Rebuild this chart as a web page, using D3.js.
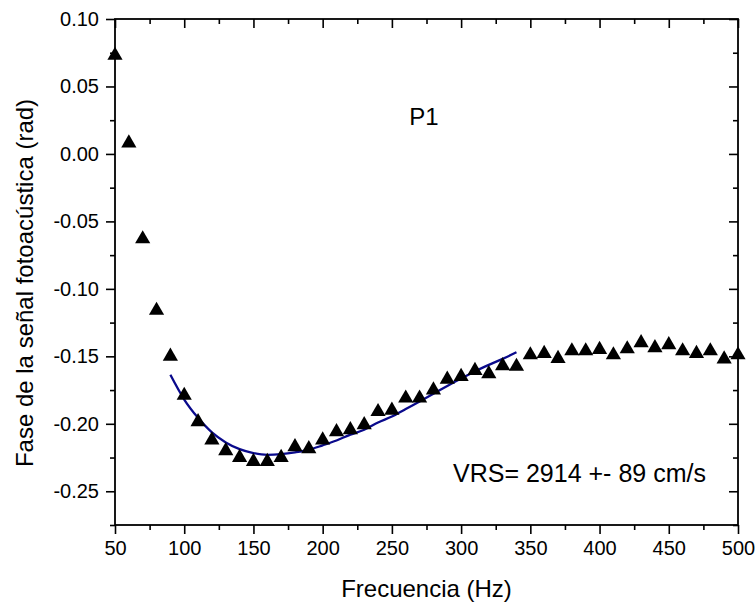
<!DOCTYPE html>
<html>
<head>
<meta charset="utf-8">
<script src="https://cdn.jsdelivr.net/npm/d3@7"></script>
<style>
  body { margin: 0; background: #fff; }
  text { font-family: "Liberation Sans", Arial, sans-serif; fill: #000; }
</style>
</head>
<body>
<div id="chart"></div>
<script>
var width = 756,
    height = 606;

// measured phase (rad) vs frequency (Hz)
var freq = [50, 60, 70, 80, 90, 100, 110, 120, 130, 140, 150, 160, 170, 180, 190,
    200, 210, 220, 230, 240, 250, 260, 270, 280, 290, 300, 310, 320, 330, 340,
    350, 360, 370, 380, 390, 400, 410, 420, 430, 440, 450, 460, 470, 480, 490, 500];
var phase = [0.073, 0.008, -0.063, -0.116, -0.150, -0.179, -0.1985, -0.212, -0.220, -0.225,
    -0.228, -0.228, -0.225, -0.217, -0.2185, -0.212, -0.206, -0.2045, -0.2007, -0.191,
    -0.190, -0.181, -0.181, -0.175, -0.167, -0.165, -0.1605, -0.163, -0.157, -0.1575,
    -0.149, -0.148, -0.1516, -0.146, -0.146, -0.145, -0.149, -0.1445, -0.140, -0.1437,
    -0.1415, -0.146, -0.148, -0.146, -0.152, -0.149];

// fitted curve
var fitFreq = [90, 100, 110, 120, 130, 140, 150, 160, 170, 180, 190, 200, 210, 220, 230,
    240, 250, 260, 270, 280, 290, 300, 310, 320, 330, 340];
var fitPhase = [-0.1637, -0.182, -0.1956, -0.2064, -0.2138, -0.2188, -0.2217, -0.223, -0.2225,
    -0.2212, -0.2193, -0.216, -0.2124, -0.208, -0.2044, -0.199, -0.1946, -0.189, -0.1835,
    -0.1778, -0.1719, -0.1664, -0.1612, -0.1563, -0.1519, -0.147];

var xTicks = [50, 100, 150, 200, 250, 300, 350, 400, 450, 500];
var yTicks = [0.10, 0.05, 0.00, -0.05, -0.10, -0.15, -0.20, -0.25];

var margin = {top: 19, right: 18, bottom: 81, left: 115};
var w = width - margin.left - margin.right,
    h = height - margin.top - margin.bottom;

var svg = d3.select('#chart')
    .append('svg')
    .attr('width', width)
    .attr('height', height)
    .append('g')
    .attr('transform', 'translate(' + margin.left + ',' + margin.top + ')');

var x = d3.scaleLinear().domain([50, 500]).range([0, w]);
var y = d3.scaleLinear().domain([-0.275, 0.10]).range([h, 0]);

var xMinor = d3.range(50, 501, 25).filter(function (d) { return d % 50 !== 0; });
var yMinor = d3.range(-0.275, 0.1, 0.05).map(function (d) { return +d.toFixed(3); });

function styleAxis(g) {
    g.select('.domain').remove();
    g.selectAll('line').attr('stroke', '#000').attr('stroke-width', 1.6);
    g.selectAll('text').attr('font-size', 20).attr('font-family', '"Liberation Sans", Arial, sans-serif');
}

// bottom
svg.append('g').attr('transform', 'translate(0,' + h + ')')
    .call(d3.axisBottom(x).tickValues(xTicks).tickSize(9).tickPadding(5).tickFormat(d3.format('d')))
    .call(styleAxis)
    .selectAll('text').attr('dy', '0.8em');
svg.append('g').attr('transform', 'translate(0,' + h + ')')
    .call(d3.axisBottom(x).tickValues(xMinor).tickSize(5).tickFormat(''))
    .call(styleAxis);

// top (inward)
svg.append('g')
    .call(d3.axisBottom(x).tickValues(xTicks).tickSize(9).tickFormat(''))
    .call(styleAxis);
svg.append('g')
    .call(d3.axisBottom(x).tickValues(xMinor).tickSize(5).tickFormat(''))
    .call(styleAxis);

// left
svg.append('g')
    .call(d3.axisLeft(y).tickValues(yTicks).tickSize(9).tickPadding(7))
    .call(styleAxis)
    .selectAll('text').text(function (d) { return d3.format('.2f')(d).replace('−', '-'); });
svg.append('g')
    .call(d3.axisLeft(y).tickValues(yMinor).tickSize(5).tickFormat(''))
    .call(styleAxis);

// right (inward)
svg.append('g').attr('transform', 'translate(' + w + ',0)')
    .call(d3.axisLeft(y).tickValues(yTicks).tickSize(9).tickFormat(''))
    .call(styleAxis);
svg.append('g').attr('transform', 'translate(' + w + ',0)')
    .call(d3.axisLeft(y).tickValues(yMinor).tickSize(5).tickFormat(''))
    .call(styleAxis);

// frame
svg.append('rect')
    .attr('width', w)
    .attr('height', h)
    .attr('fill', 'none')
    .attr('stroke', '#000')
    .attr('stroke-width', 1.8);

// fit line
var line = d3.line()
    .x(function (d, i) { return x(fitFreq[i]); })
    .y(function (d) { return y(d); })
    .curve(d3.curveMonotoneX);

svg.append('path')
    .datum(fitPhase)
    .attr('d', line)
    .attr('fill', 'none')
    .attr('stroke', '#0a0a8c')
    .attr('stroke-width', 2.3);

// points
var tri = d3.symbol().type(d3.symbolTriangle).size(100);
svg.append('g')
    .selectAll('.pt')
    .data(phase)
    .enter()
    .append('path')
    .attr('class', 'pt')
    .attr('d', tri)
    .attr('transform', function (d, i) {
        return 'translate(' + x(freq[i]) + ',' + y(d) + ')';
    })
    .attr('fill', '#000');

// annotations
svg.append('text')
    .attr('x', 424 - margin.left)
    .attr('y', 125 - margin.top)
    .attr('text-anchor', 'middle')
    .attr('font-size', 24)
    .text('P1');

svg.append('text')
    .attr('x', 453 - margin.left)
    .attr('y', 482 - margin.top)
    .attr('font-size', 25)
    .text('VRS= 2914 +- 89 cm/s');

// axis titles
svg.append('text')
    .attr('x', w / 2)
    .attr('y', 597 - margin.top)
    .attr('text-anchor', 'middle')
    .attr('font-size', 24)
    .text('Frecuencia (Hz)');

svg.append('text')
    .attr('transform', 'translate(' + (33 - margin.left) + ',' + (283 - margin.top) + ') rotate(-90)')
    .attr('text-anchor', 'middle')
    .attr('font-size', 24)
    .text('Fase de la señal fotoacústica (rad)');
</script>
</body>
</html>
